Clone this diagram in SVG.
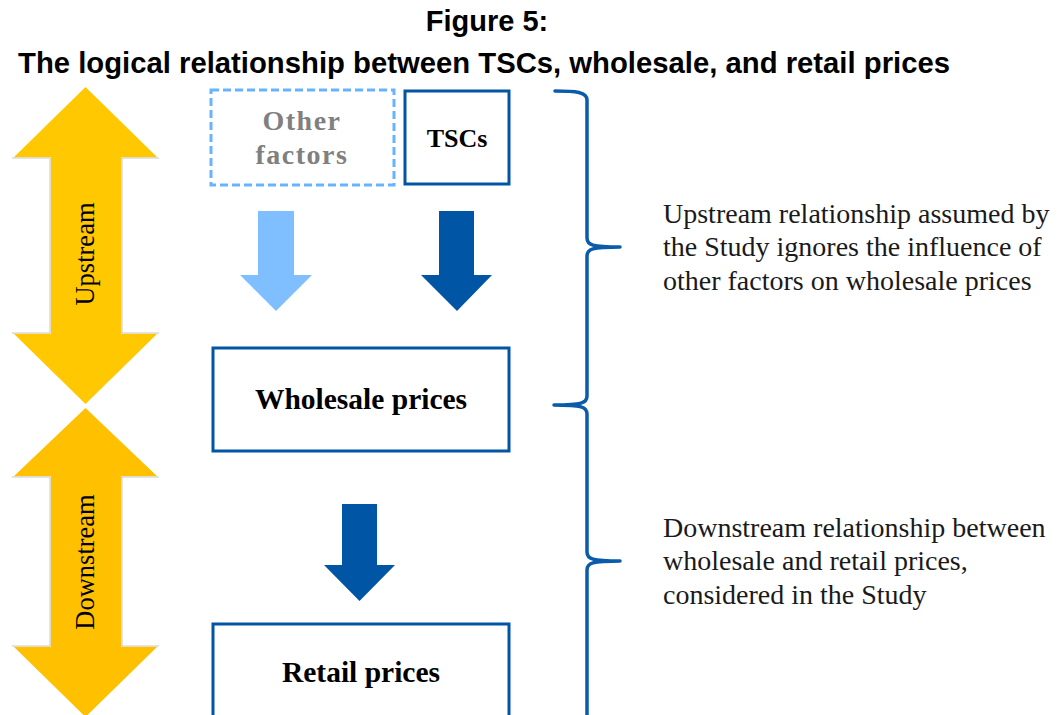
<svg xmlns="http://www.w3.org/2000/svg" width="1059" height="715" viewBox="0 0 1059 715">
  <style>
    .title { font-family: "Liberation Sans", Arial, sans-serif; font-weight: bold; font-size: 29px; fill: #000; }
    .node-label { font-family: "Liberation Serif", "Times New Roman", serif; font-weight: bold; font-size: 29.5px; fill: #000; text-anchor: middle; }
    .faded-label { font-family: "Liberation Serif", "Times New Roman", serif; font-weight: bold; font-size: 28px; fill: #808080; text-anchor: middle; letter-spacing: 1.5px; }
    .note { font-family: "Liberation Serif", "Times New Roman", serif; font-size: 28px; fill: #1a1a1a; }
    .stage { font-family: "Liberation Serif", "Times New Roman", serif; font-size: 26.5px; fill: #000; text-anchor: middle; }
    .box { fill: #fff; stroke: #0055A5; stroke-width: 3; }
    .box-dashed { fill: #fff; stroke: #66B3FF; stroke-width: 3; stroke-dasharray: 8 4; }
    .flow-dark { fill: #0055A5; }
    .flow-light { fill: #7FBFFF; }
    .brace { fill: none; stroke: #0A5BAA; stroke-width: 3.5; stroke-linecap: round; stroke-linejoin: round; }
    .stage-arrow { stroke: #fff; stroke-width: 1.5; }
  </style>

  <!-- heading -->
  <text class="title" x="487" y="31" text-anchor="middle">Figure 5:</text>
  <text class="title" x="18" y="73" textLength="932" lengthAdjust="spacingAndGlyphs">The logical relationship between TSCs, wholesale, and retail prices</text>

  <!-- stage arrows on the left -->
  <g id="upstream">
    <path class="stage-arrow" fill="#FFC800" d="M85.5,86 L159,158 L122,158 L122,333 L159,333 L85.5,405 L12,333 L50,333 L50,158 L12,158 Z"/>
    <path d="M50,158 L50,333 M122,158 L122,333 M12,158 L50,158 M12,333 L50,333 M122,158 L159,158 M122,333 L159,333" fill="none" stroke="#c8c8c8" stroke-width="1"/>
    <text class="stage" transform="translate(94,254) rotate(-90)">Upstream</text>
  </g>
  <g id="downstream">
    <path class="stage-arrow" fill="#FFC000" d="M85.5,407 L159,477 L122,477 L122,646 L159,646 L85.5,718 L12,646 L50,646 L50,477 L12,477 Z"/>
    <path d="M50,477 L50,646 M122,477 L122,646 M12,477 L50,477 M12,646 L50,646 M122,477 L159,477 M122,646 L159,646" fill="none" stroke="#c8c8c8" stroke-width="1"/>
    <text class="stage" transform="translate(94,562) rotate(-90)">Downstream</text>
  </g>

  <!-- nodes -->
  <g id="other-factors">
    <rect class="box-dashed" x="211" y="90" width="183" height="95"/>
    <text class="faded-label" x="302" y="130">Other</text>
    <text class="faded-label" x="302" y="164">factors</text>
  </g>
  <g id="tscs">
    <rect class="box" x="405" y="91" width="104" height="93"/>
    <text class="node-label" x="457" y="147" style="font-size:26px">TSCs</text>
  </g>
  <g id="wholesale-prices">
    <rect class="box" x="213" y="348" width="296" height="103"/>
    <text class="node-label" x="361" y="409">Wholesale prices</text>
  </g>
  <g id="retail-prices">
    <rect class="box" x="213" y="624" width="296" height="110"/>
    <text class="node-label" x="361" y="682">Retail prices</text>
  </g>

  <!-- connectors -->
  <g id="connectors">
    <path class="flow-light" d="M258,211 L294,211 L294,275 L312,275 L276,311 L240,275 L258,275 Z"/>
    <path class="flow-dark" d="M439,211 L474,211 L474,275 L492,275 L457,311 L421,275 L439,275 Z"/>
    <path class="flow-dark" d="M342,504 L377,504 L377,565 L395,565 L359.5,601 L324,565 L342,565 Z"/>
  </g>

  <!-- grouping brace -->
  <g id="brace">
    <path class="brace" d="M555,91 C576,91 587,92 587,100 L587,238 C587,245 592,247 620,247 C592,247 587,249 587,256 L587,396 C587,403 582,405 554,405 C582,405 587,407 587,414 L587,552 C587,559 592,561 620,561 C592,561 587,563 587,570 L587,720"/>
  </g>

  <!-- annotations -->
  <g id="upstream-note">
    <text class="note" x="663" y="223">Upstream relationship assumed by</text>
    <text class="note" x="663" y="256">the Study ignores the influence of</text>
    <text class="note" x="663" y="290">other factors on wholesale prices</text>
  </g>
  <g id="downstream-note">
    <text class="note" x="663" y="537">Downstream relationship between</text>
    <text class="note" x="663" y="570">wholesale and retail prices,</text>
    <text class="note" x="663" y="604">considered in the Study</text>
  </g>
</svg>
